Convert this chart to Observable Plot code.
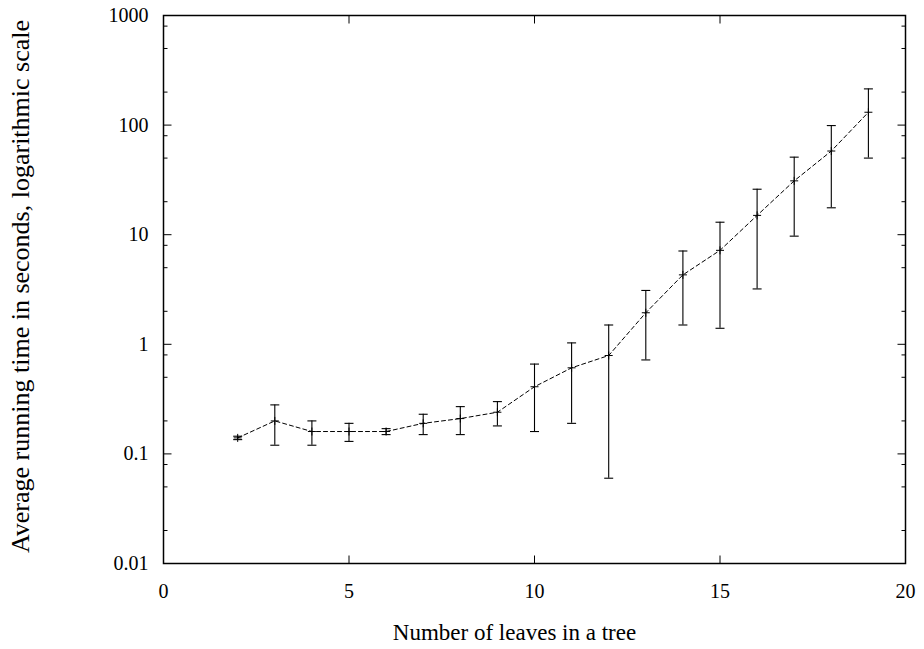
<!DOCTYPE html>
<html><head><meta charset="utf-8">
<script src="https://cdn.jsdelivr.net/npm/d3@7"></script>
<script src="https://cdn.jsdelivr.net/npm/@observablehq/plot@0.6"></script>
<style>body{margin:0;background:#fff} svg{display:block}</style>
</head><body><div id="chart"></div>
<script>
const leaves   = [2, 3, 4, 5, 6, 7, 8, 9, 10, 11, 12, 13, 14, 15, 16, 17, 18, 19];
const meanTime = [0.14, 0.20, 0.16, 0.16, 0.16, 0.19, 0.21, 0.24, 0.41, 0.61, 0.79, 1.94, 4.3, 7.2, 15, 31, 58, 131];
const lowTime  = [0.135, 0.12, 0.12, 0.13, 0.15, 0.15, 0.15, 0.18, 0.16, 0.19, 0.06, 0.72, 1.5, 1.4, 3.2, 9.7, 17.6, 50];
const highTime = [0.145, 0.28, 0.20, 0.19, 0.17, 0.23, 0.27, 0.30, 0.66, 1.03, 1.5, 3.1, 7.1, 13, 26, 51, 99, 214];
const xTicks = [0, 5, 10, 15, 20];
const xInnerTicks = [5, 10, 15];
const yTicks = [0.01, 0.1, 1, 10, 100, 1000];
const yTickLabels = ["0.01", "0.1", "1", "10", "100", "1000"];
const yMinorTicks = [0.02, 0.05, 0.08, 0.2, 0.5, 0.8, 2, 5, 8, 20, 50, 80, 200, 500, 800];
const xLabel = "Number of leaves in a tree";
const yLabel = "Average running time in seconds, logarithmic scale";

const data = leaves.map((x, i) => ({x, mean: meanTime[i], low: lowTime[i], high: highTime[i]}));

const seg = (x1, y1, x2, y2) => ({draw(ctx) { ctx.moveTo(x1, y1); ctx.lineTo(x2, y2); }});
const capSym = seg(-4.5, 0, 4.5, 0);
const plusSym = {draw(ctx) { ctx.moveTo(-4, 0); ctx.lineTo(4, 0); ctx.moveTo(0, -4); ctx.lineTo(0, 4); }};
const MAJ = 8, MIN = 4;
const tk = {stroke: "black", fill: "none", strokeWidth: 1};

const chart = Plot.plot({
  width: 924,
  height: 649,
  marginLeft: 163,
  marginRight: 19,
  marginTop: 15,
  marginBottom: 86,
  style: {fontFamily: "'Liberation Serif', serif", color: "black", background: "white"},
  x: {domain: [0, 20]},
  y: {type: "log", domain: [0.01, 1000]},
  marks: [
    Plot.axisX({ticks: xTicks, tickSize: 0, tickPadding: 20, label: null, fontSize: 20}),
    Plot.axisY({ticks: yTicks, tickFormat: d => yTickLabels[yTicks.indexOf(d)], tickSize: 0, tickPadding: 15, label: null, fontSize: 20}),
    // inward ticks
    Plot.dot(yTicks, {y: d => d, frameAnchor: "left", symbol: seg(0, 0, MAJ, 0), ...tk}),
    Plot.dot(yTicks, {y: d => d, frameAnchor: "right", symbol: seg(0, 0, -MAJ, 0), ...tk}),
    Plot.dot(yMinorTicks, {y: d => d, frameAnchor: "left", symbol: seg(0, 0, MIN, 0), ...tk}),
    Plot.dot(yMinorTicks, {y: d => d, frameAnchor: "right", symbol: seg(0, 0, -MIN, 0), ...tk}),
    Plot.dot(xInnerTicks, {x: d => d, frameAnchor: "bottom", symbol: seg(0, 0, 0, -MAJ), ...tk}),
    Plot.dot(xInnerTicks, {x: d => d, frameAnchor: "top", symbol: seg(0, 0, 0, MAJ), ...tk}),
    Plot.frame({stroke: "black", strokeWidth: 1.5}),
    // error bars
    Plot.ruleX(data, {x: "x", y1: "low", y2: "high", stroke: "black", strokeWidth: 1.1}),
    Plot.dot(data, {x: "x", y: "low", symbol: capSym, stroke: "black", fill: "none", strokeWidth: 1.1}),
    Plot.dot(data, {x: "x", y: "high", symbol: capSym, stroke: "black", fill: "none", strokeWidth: 1.1}),
    // mean line
    Plot.line(data, {x: "x", y: "mean", stroke: "black", strokeWidth: 1, strokeDasharray: "4,3"}),
    Plot.dot(data, {x: "x", y: "mean", symbol: plusSym, stroke: "black", fill: "none", strokeWidth: 1}),
    // axis titles
    Plot.text([xLabel], {frameAnchor: "bottom", dx: -20, dy: 69, lineAnchor: "middle", textAnchor: "middle", fontSize: 23, fill: "black"}),
    Plot.text([yLabel], {frameAnchor: "left", dx: -143, dy: -3, rotate: -90, lineAnchor: "middle", textAnchor: "middle", fontSize: 26, fill: "black"})
  ]
});
document.getElementById("chart").appendChild(chart);
</script>
</body></html>
